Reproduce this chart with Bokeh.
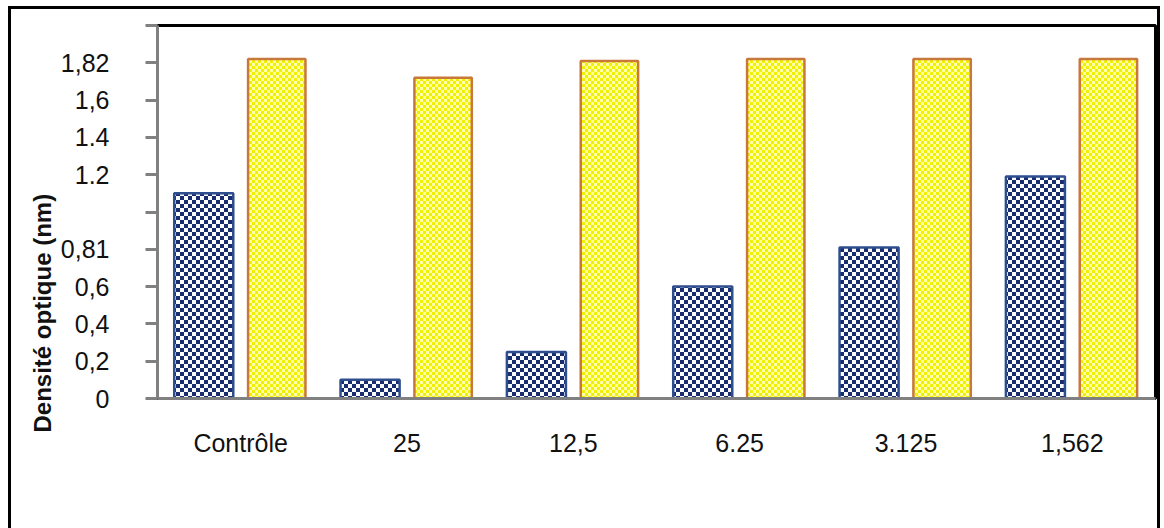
import zlib, struct, base64
from bokeh.plotting import figure
from bokeh.models import (ColumnDataSource, FactorRange, Range1d, FixedTicker, Title,
                          Legend, LegendItem, ImageURLTexture)
from bokeh.transform import dodge
from bokeh.core.properties import value
from bokeh.embed import file_html
from bokeh.resources import INLINE

categories = ["Contrôle", "25", "12,5", "6.25", "3.125", "1,562"]
biofilm = [1.10, 0.10, 0.25, 0.60, 0.81, 1.19]
growth = [1.82, 1.72, 1.81, 1.82, 1.82, 1.82]
y_ticks = [0, 0.2, 0.4, 0.6, 0.8, 1.0, 1.2, 1.4, 1.6, 1.8, 2.0]
y_tick_labels = ["0", "0,2", "0,4", "0,6", "0,81", "", "1.2", "1.4", "1,6", "1,82", ""]
legend_label = "biofilm OD 570nm"
x_title = "Concentration sous-CMI ( µg / mL)"
y_title = "Densité optique (nm)"

FONT = "Liberation Sans"


def png_uri(w, h, fn):
    raw = b"".join(b"\x00" + b"".join(bytes(fn(x, y)) for x in range(w)) for y in range(h))

    def chunk(t, d):
        c = struct.pack(">I", len(d)) + t + d
        return c + struct.pack(">I", zlib.crc32(t + d) & 0xffffffff)

    png = (b"\x89PNG\r\n\x1a\n"
           + chunk(b"IHDR", struct.pack(">IIBBBBB", w, h, 8, 2, 0, 0, 0))
           + chunk(b"IDAT", zlib.compress(raw))
           + chunk(b"IEND", b""))
    return "data:image/png;base64," + base64.b64encode(png).decode()


def checker(cell, c1, c2):
    return png_uri(2 * cell, 2 * cell,
                   lambda x, y: c1 if ((x // cell) + (y // cell)) % 2 == 0 else c2)


blue_tex = ImageURLTexture(url=checker(4, (24, 44, 110), (250, 252, 255)))
yellow_tex = ImageURLTexture(url=checker(3, (240, 240, 0), (255, 255, 170)))

src = ColumnDataSource(dict(cat=categories, biofilm=biofilm, growth=growth))

p = figure(frame_width=998, frame_height=373, x_range=FactorRange(*categories), y_range=Range1d(0, 2.0),
           output_backend="svg", toolbar_location=None,
           min_border_left=157, min_border_right=9, min_border_top=25, min_border_bottom=130)
# outer black frame drawn with inset shadows behind a transparent border area
p.styles = {"background-color": "white",
            "box-shadow": ("inset 8px 0 0 0 white, inset 0 6px 0 0 white, inset -4px 0 0 0 white, "
                           "inset 11px 0 0 0 black, inset 0 9px 0 0 black, inset -7px 0 0 0 black")}
p.background_fill_color = "white"
p.border_fill_color = None
p.grid.visible = False
p.outline_line_color = "black"
p.outline_line_width = 3

r_blue = p.vbar(x=dodge("cat", -0.222, range=p.x_range), top="biofilm", width=0.355, source=src,
                fill_color="#8c9cc4", line_color="#2E4E8E", line_width=2.5,
                hatch_pattern=value("bluechk"), hatch_extra={"bluechk": blue_tex}, hatch_alpha=1.0)
r_yel = p.vbar(x=dodge("cat", 0.217, range=p.x_range), top="growth", width=0.345, source=src,
               fill_color="#f7f760", line_color="#C8783A", line_width=2.5,
               hatch_pattern=value("yelchk"), hatch_extra={"yelchk": yellow_tex}, hatch_alpha=1.0)
# invisible renderer used only as a spacer entry in the legend
r_space = p.vbar(x=dodge("cat", 0.217, range=p.x_range), top="growth", width=0.345, source=src,
                 fill_alpha=0, line_alpha=0)

# y axis
ya = p.yaxis[0]
ya.ticker = FixedTicker(ticks=y_ticks)
ya.major_label_overrides = {t: l for t, l in zip(y_ticks, y_tick_labels)}
ya.axis_line_color = "#808080"
ya.axis_line_width = 3
ya.major_tick_line_color = "#808080"
ya.major_tick_line_width = 3
ya.major_tick_out = 12
ya.major_tick_in = 0
ya.minor_tick_line_color = None
ya.major_label_standoff = 36
ya.major_label_text_font = FONT
ya.major_label_text_font_size = "25px"
ya.major_label_text_color = "#111111"

# x axis
xa = p.xaxis[0]
xa.axis_line_color = "#808080"
xa.axis_line_width = 3
xa.major_tick_line_color = None
xa.minor_tick_line_color = None
xa.major_label_standoff = 24
xa.major_label_text_font = FONT
xa.major_label_text_font_size = "25px"
xa.major_label_text_color = "#111111"

# y title
p.add_layout(Title(text=y_title, align="left", offset=-34, standoff=4,
                   text_font=FONT, text_font_size="24px", text_font_style="bold",
                   text_color="#111111"), "left")

# legend row (right side)
legend = Legend(items=[LegendItem(label=legend_label, renderers=[r_blue]),
                       LegendItem(label=" ", renderers=[r_space])],
                location="top_right", orientation="horizontal", spacing=0,
                padding=0, margin=0, glyph_width=20, glyph_height=20, label_width=47,
                label_standoff=10, border_line_color=None, background_fill_alpha=0,
                label_text_font=FONT, label_text_font_size="25px", label_text_color="#111111")
p.add_layout(legend, "below")

# x title
p.add_layout(Title(text=x_title, align="left", offset=120, standoff=0, vertical_align="top",
                   text_font=FONT, text_font_size="26px", text_font_style="bold",
                   text_color="#111111"), "below")

open("out.html", "w").write(file_html(p, INLINE))
